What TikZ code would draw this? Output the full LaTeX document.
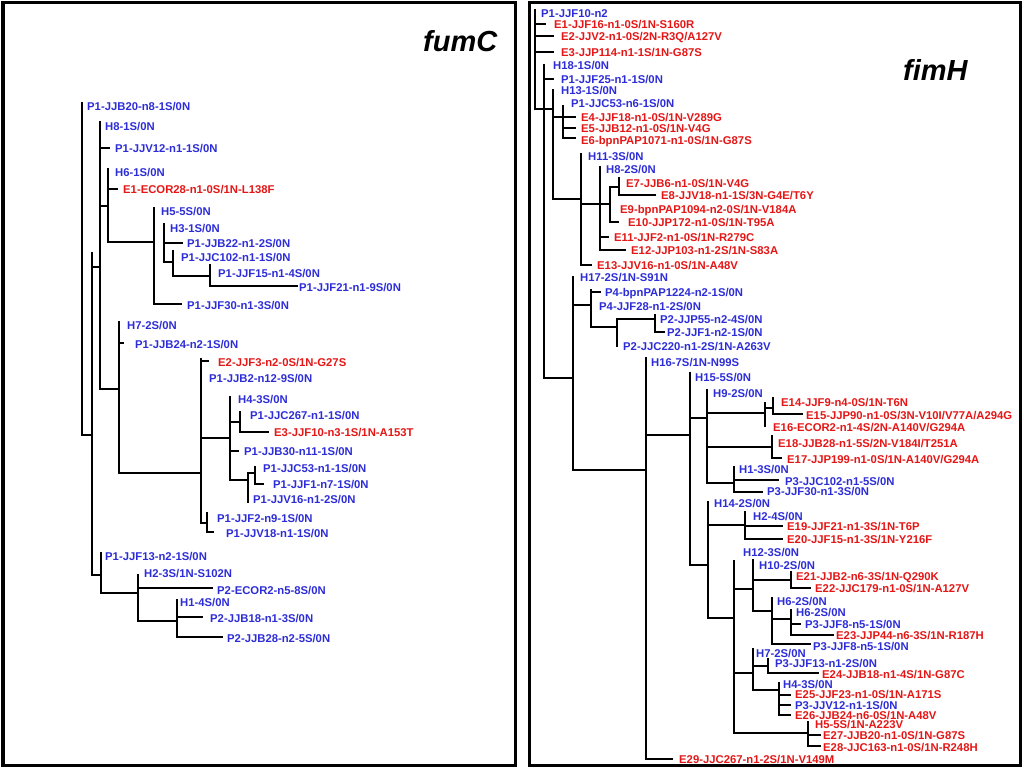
\documentclass[tikz,border=0pt]{standalone}
\usepackage{fontspec}
\setmainfont{Liberation Sans}
\definecolor{tb}{RGB}{45,45,215}
\definecolor{tr}{RGB}{228,22,22}
\newcounter{lbc}
\newcommand{\lab}[4]{\stepcounter{lbc}\node[lb,text=#3] (t\arabic{lbc}) at (#1,#2) {#4};}
\begin{document}
\begin{tikzpicture}[x={(1bp,0)},y={(0,-1bp)},
  lb/.style={anchor=west,inner sep=0pt,text height=8.1bp,text depth=0pt,font=\fontsize{11.3bp}{13bp}\selectfont\bfseries},
  br/.style={line width=2bp,line cap=rect},
  frame/.style={line width=3bp},
  ttl/.style={anchor=base west,inner sep=0pt,font=\fontsize{29bp}{32bp}\selectfont\bfseries\itshape}]
\useasboundingbox (0,0) rectangle (1024,768);
\draw[frame] (3,3) rectangle (515,765);
\draw[frame] (529,3) rectangle (1020,765);
\node[ttl] (tl) at (423,52) {fumC};
\node[ttl] (tr) at (903,81) {fimH};
% ---------------- fumC tree ----------------
\draw[br] (82,103)--(82,435)--(92,435);
\draw[br] (92,253)--(92,575);
\draw[br] (92,267)--(100,267);
\draw[br] (100,122)--(100,389);
\draw[br] (100,148)--(109,148);
\draw[br] (100,206)--(108,206);
\draw[br] (108,169)--(108,242)--(154,242);
\draw[br] (108,189)--(117,189);
\draw[br] (154,208)--(154,304)--(181,304);
\draw[br] (164,224)--(164,262)--(173,262);
\draw[br] (164,243)--(182,243);
\draw[br] (173,251)--(173,276)--(210,276);
\draw[br] (210,265)--(210,286)--(297,286);
\draw[br] (100,389)--(119,389);
\draw[br] (119,322)--(119,473)--(201,473);
\draw[br] (119,343)--(123,343);
\draw[br] (201,359)--(201,523)--(207,523);
\draw[br] (201,361)--(208,361);
\draw[br] (201,438)--(230,438);
\draw[br] (230,397)--(230,480)--(248,480);
\draw[br] (230,422)--(240,422);
\draw[br] (240,412)--(240,432)--(268,432);
\draw[br] (230,451)--(238,451);
\draw[br] (248,473)--(248,502);
\draw[br] (248,473)--(255,473);
\draw[br] (255,467)--(255,484)--(263,484);
\draw[br] (207,513)--(207,532)--(213,532);
\draw[br] (92,575)--(101,575);
\draw[br] (101,553)--(101,593)--(138,593);
\draw[br] (138,575)--(138,621)--(177,621);
\draw[br] (138,588)--(212,588);
\draw[br] (177,600)--(177,637)--(222,637);
\draw[br] (177,617)--(202,617);
\lab{87}{106}{tb}{P1-JJB20-n8-1S/0N}
\lab{105}{126}{tb}{H8-1S/0N}
\lab{115}{148}{tb}{P1-JJV12-n1-1S/0N}
\lab{115}{172}{tb}{H6-1S/0N}
\lab{123}{189}{tr}{E1-ECOR28-n1-0S/1N-L138F}
\lab{161}{211}{tb}{H5-5S/0N}
\lab{170}{228}{tb}{H3-1S/0N}
\lab{187}{243}{tb}{P1-JJB22-n1-2S/0N}
\lab{181}{257}{tb}{P1-JJC102-n1-1S/0N}
\lab{218}{273}{tb}{P1-JJF15-n1-4S/0N}
\lab{299}{287}{tb}{P1-JJF21-n1-9S/0N}
\lab{187}{305}{tb}{P1-JJF30-n1-3S/0N}
\lab{127}{325}{tb}{H7-2S/0N}
\lab{135}{344}{tb}{P1-JJB24-n2-1S/0N}
\lab{218}{362}{tr}{E2-JJF3-n2-0S/1N-G27S}
\lab{209}{378}{tb}{P1-JJB2-n12-9S/0N}
\lab{238}{399}{tb}{H4-3S/0N}
\lab{250}{415}{tb}{P1-JJC267-n1-1S/0N}
\lab{274}{432}{tr}{E3-JJF10-n3-1S/1N-A153T}
\lab{244}{451}{tb}{P1-JJB30-n11-1S/0N}
\lab{263}{468}{tb}{P1-JJC53-n1-1S/0N}
\lab{273}{484}{tb}{P1-JJF1-n7-1S/0N}
\lab{253}{499}{tb}{P1-JJV16-n1-2S/0N}
\lab{217}{518}{tb}{P1-JJF2-n9-1S/0N}
\lab{226}{533}{tb}{P1-JJV18-n1-1S/0N}
\lab{105}{556}{tb}{P1-JJF13-n2-1S/0N}
\lab{144}{573}{tb}{H2-3S/1N-S102N}
\lab{217}{590}{tb}{P2-ECOR2-n5-8S/0N}
\lab{180}{602}{tb}{H1-4S/0N}
\lab{210}{618}{tb}{P2-JJB18-n1-3S/0N}
\lab{227}{638}{tb}{P2-JJB28-n2-5S/0N}
% ---------------- fimH tree ----------------
\draw[br] (535,10)--(535,109)--(553,109);
\draw[br] (535,24)--(545,24);
\draw[br] (535,36)--(553,36);
\draw[br] (535,52)--(553,52);
\draw[br] (544,65)--(544,378)--(573,378);
\draw[br] (544,79)--(553,79);
\draw[br] (553,90)--(553,199)--(581,199);
\draw[br] (553,117)--(575,117);
\draw[br] (563,106)--(563,138)--(575,138);
\draw[br] (563,128)--(575,128);
\draw[br] (581,154)--(581,265)--(591,265);
\draw[br] (581,204)--(600,204);
\draw[br] (600,167)--(600,250)--(625,250);
\draw[br] (600,204)--(610,204);
\draw[br] (610,187)--(610,222)--(618,222);
\draw[br] (610,187)--(619,187);
\draw[br] (619,178)--(619,195)--(655,195);
\draw[br] (600,237)--(608,237);
\draw[br] (573,277)--(573,470)--(646,470);
\draw[br] (573,305)--(591,305);
\draw[br] (591,290)--(591,327)--(617,327);
\draw[br] (591,292)--(600,292);
\draw[br] (617,319)--(617,346);
\draw[br] (617,319)--(655,319);
\draw[br] (655,315)--(655,332)--(664,332);
\draw[br] (646,358)--(646,759)--(672,759);
\draw[br] (646,435)--(690,435);
\draw[br] (690,373)--(690,565)--(708,565);
\draw[br] (690,418)--(707,418);
\draw[br] (707,390)--(707,483)--(734,483);
\draw[br] (707,413)--(765,413);
\draw[br] (765,403)--(765,426);
\draw[br] (765,408)--(773,408);
\draw[br] (773,398)--(773,414)--(802,414);
\draw[br] (707,447)--(772,447);
\draw[br] (772,436)--(772,458)--(781,458);
\draw[br] (734,467)--(734,492)--(762,492);
\draw[br] (734,480)--(778,480);
\draw[br] (708,502)--(708,618)--(734,618);
\draw[br] (708,525)--(745,525);
\draw[br] (745,512)--(745,539)--(782,539);
\draw[br] (745,526)--(782,526);
\draw[br] (734,561)--(734,733)--(808,733);
\draw[br] (734,589)--(753,589);
\draw[br] (753,560)--(753,611)--(772,611);
\draw[br] (753,580)--(791,580);
\draw[br] (791,572)--(791,588)--(810,588);
\draw[br] (772,598)--(772,644)--(810,644);
\draw[br] (772,619)--(791,619);
\draw[br] (791,610)--(791,635)--(833,635);
\draw[br] (791,624)--(800,624);
\draw[br] (734,673)--(753,673);
\draw[br] (753,649)--(753,690)--(779,690);
\draw[br] (753,666)--(768,666);
\draw[br] (768,659)--(768,673)--(818,673);
\draw[br] (779,683)--(779,715)--(790,715);
\draw[br] (779,694.5)--(790,694.5);
\draw[br] (779,705)--(790,705);
\draw[br] (808,722)--(808,746)--(820,746);
\draw[br] (808,735)--(820,735);
\lab{541}{13}{tb}{P1-JJF10-n2}
\lab{554}{24}{tr}{E1-JJF16-n1-0S/1N-S160R}
\lab{561}{36}{tr}{E2-JJV2-n1-0S/2N-R3Q/A127V}
\lab{561}{52}{tr}{E3-JJP114-n1-1S/1N-G87S}
\lab{553}{65}{tb}{H18-1S/0N}
\lab{561}{79}{tb}{P1-JJF25-n1-1S/0N}
\lab{561}{90}{tb}{H13-1S/0N}
\lab{571}{103}{tb}{P1-JJC53-n6-1S/0N}
\lab{581}{117}{tr}{E4-JJF18-n1-0S/1N-V289G}
\lab{581}{128}{tr}{E5-JJB12-n1-0S/1N-V4G}
\lab{581}{140}{tr}{E6-bpnPAP1071-n1-0S/1N-G87S}
\lab{588}{156}{tb}{H11-3S/0N}
\lab{606}{169}{tb}{H8-2S/0N}
\lab{626}{183}{tr}{E7-JJB6-n1-0S/1N-V4G}
\lab{661}{195}{tr}{E8-JJV18-n1-1S/3N-G4E/T6Y}
\lab{620}{209}{tr}{E9-bpnPAP1094-n2-0S/1N-V184A}
\lab{628}{222}{tr}{E10-JJP172-n1-0S/1N-T95A}
\lab{614}{237}{tr}{E11-JJF2-n1-0S/1N-R279C}
\lab{631}{250}{tr}{E12-JJP103-n1-2S/1N-S83A}
\lab{597}{265}{tr}{E13-JJV16-n1-0S/1N-A48V}
\lab{580}{277}{tb}{H17-2S/1N-S91N}
\lab{605}{292}{tb}{P4-bpnPAP1224-n2-1S/0N}
\lab{599}{306}{tb}{P4-JJF28-n1-2S/0N}
\lab{660}{319}{tb}{P2-JJP55-n2-4S/0N}
\lab{667}{332}{tb}{P2-JJF1-n2-1S/0N}
\lab{623}{346}{tb}{P2-JJC220-n1-2S/1N-A263V}
\lab{651}{362}{tb}{H16-7S/1N-N99S}
\lab{695}{377}{tb}{H15-5S/0N}
\lab{713}{393}{tb}{H9-2S/0N}
\lab{781}{402}{tr}{E14-JJF9-n4-0S/1N-T6N}
\lab{806}{415}{tr}{E15-JJP90-n1-0S/3N-V10I/V77A/A294G}
\lab{773}{427}{tr}{E16-ECOR2-n1-4S/2N-A140V/G294A}
\lab{778}{443}{tr}{E18-JJB28-n1-5S/2N-V184I/T251A}
\lab{787}{459}{tr}{E17-JJP199-n1-0S/1N-A140V/G294A}
\lab{739}{469}{tb}{H1-3S/0N}
\lab{785}{481}{tb}{P3-JJC102-n1-5S/0N}
\lab{767}{491}{tb}{P3-JJF30-n1-3S/0N}
\lab{714}{503}{tb}{H14-2S/0N}
\lab{753}{516}{tb}{H2-4S/0N}
\lab{787}{526}{tr}{E19-JJF21-n1-3S/1N-T6P}
\lab{787}{539}{tr}{E20-JJF15-n1-3S/1N-Y216F}
\lab{743}{552}{tb}{H12-3S/0N}
\lab{759}{565}{tb}{H10-2S/0N}
\lab{796}{576}{tr}{E21-JJB2-n6-3S/1N-Q290K}
\lab{815}{588}{tr}{E22-JJC179-n1-0S/1N-A127V}
\lab{777}{601}{tb}{H6-2S/0N}
\lab{796}{612}{tb}{H6-2S/0N}
\lab{805}{624}{tb}{P3-JJF8-n5-1S/0N}
\lab{836}{635}{tr}{E23-JJP44-n6-3S/1N-R187H}
\lab{813}{646}{tb}{P3-JJF8-n5-1S/0N}
\lab{756}{653}{tb}{H7-2S/0N}
\lab{775}{663}{tb}{P3-JJF13-n1-2S/0N}
\lab{822}{674}{tr}{E24-JJB18-n1-4S/1N-G87C}
\lab{783}{684}{tb}{H4-3S/0N}
\lab{795}{694.5}{tr}{E25-JJF23-n1-0S/1N-A171S}
\lab{795}{705}{tb}{P3-JJV12-n1-1S/0N}
\lab{795}{715}{tr}{E26-JJB24-n6-0S/1N-A48V}
\lab{815}{724.5}{tr}{H5-5S/1N-A223V}
\lab{823}{735}{tr}{E27-JJB20-n1-0S/1N-G87S}
\lab{823}{747}{tr}{E28-JJC163-n1-0S/1N-R248H}
\lab{679}{759}{tr}{E29-JJC267-n1-2S/1N-V149M}
\end{tikzpicture}
\end{document}
